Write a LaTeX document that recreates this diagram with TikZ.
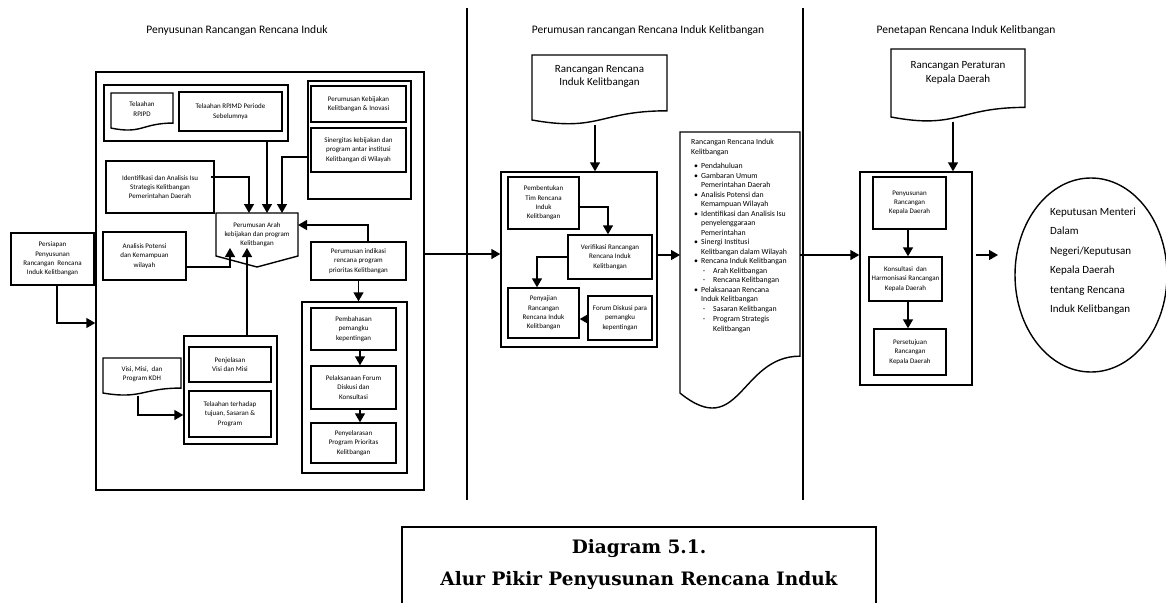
\documentclass[tikz,border=0pt]{standalone}
\usepackage{fontspec}
\setmainfont{Carlito}
\newfontfamily\capfont{DejaVu Serif}
\usetikzlibrary{arrows.meta,calc,shapes.geometric}

% outline of a flowchart "document" symbol drawn over a named area node
\newcommand\docoutline[1]{%
  \draw[ln] (#1.north west) -- (#1.north east)
    -- ($(#1.north east)!0.802!(#1.south east)$)
    .. controls ($(#1.north)!0.802!(#1.south)$) and ($(#1.north)!1.108!(#1.south)$)
    .. ($(#1.north west)!0.934!(#1.south west)$) -- cycle;}

\tikzset{
  ln/.style={line width=1.4pt},
  tiny/.style={font=\fontsize{7}{9.3}\selectfont},
  box/.style={draw, ln, rectangle, inner sep=0pt, align=center, tiny},
  grp/.style={draw, ln, rectangle, inner sep=0pt},
  area/.style={rectangle, inner sep=0pt, outer sep=0pt},
  arr/.style={ln, -{Triangle[length=9pt,width=10pt]}},
  head/.style={font=\fontsize{11.5}{13}\selectfont},
  doctext/.style={align=center, font=\fontsize{11}{13.5}\selectfont},
  captext/.style={font=\capfont\bfseries\fontsize{18.5}{21}\selectfont},
}

\begin{document}
\begin{tikzpicture}[x=1pt,y=-1pt]
\useasboundingbox (0,0) rectangle (1166,602);
\fill[white] (0,0) rectangle (1166,602);

% ---- column headings and separators
\node[head] (h1) at (237,30) {Penyusunan Rancangan Rencana Induk};
\node[head] (h2) at (648,30) {Perumusan rancangan Rencana Induk Kelitbangan};
\node[head] (h3) at (966,30) {Penetapan Rencana Induk Kelitbangan};
\draw[ln] (467,8) -- (467,500);
\draw[ln] (803,8) -- (803,500);

% ---- stage 1: drafting
\node[box, minimum width=83, minimum height=52] (persiapan) at (52.5,259)
  {Persiapan\\Penyusunan\\Rancangan\ \ Rencana\\Induk Kelitbangan};
\node[grp, minimum width=328, minimum height=418] (main) at (260,281) {};

\node[grp, minimum width=184, minimum height=56] (grpA) at (196,113) {};
\node[area, minimum width=62, minimum height=37.5] (rpjpd) at (142,111.75) {};
\docoutline{rpjpd}
\node[tiny, align=center] (rpjpdtxt) at (142,109) {Telaahan\\RPJPD};
\node[box, minimum width=103, minimum height=39] (rpjmd) at (230.5,111.5)
  {Telaahan RPJMD Periode\\Sebelumnya};

\node[grp, minimum width=103, minimum height=118] (grpB) at (359.5,140) {};
\node[box, minimum width=95, minimum height=36] (kebijakan) at (358.5,104)
  {Perumusan Kebijakan\\Kelitbangan \& Inovasi};
\node[box, minimum width=95, minimum height=44] (sinergi) at (358.5,150)
  {Sinergitas kebijakan dan\\program antar institusi\\Kelitbangan di Wilayah};

\node[box, minimum width=108, minimum height=52] (ident) at (160,187)
  {Identifikasi dan Analisis Isu\\Strategis Kelitbangan\\Pemerintahan Daerah};

\node[area, minimum width=82, minimum height=43, align=center, tiny] (arah) at (257,234.5)
  {Perumusan Arah\\kebijakan dan program\\Kelitbangan};
\draw[ln] (arah.north west) -- (arah.north east) -- (arah.south east)
  -- ($(arah.south)+(0,11)$) -- (arah.south west) -- cycle;

\node[box, minimum width=83, minimum height=48] (analisis) at (144.5,256)
  {Analisis Potensi\\dan Kemampuan\\wilayah};

\node[box, minimum width=95, minimum height=38] (indikasi) at (358.5,261)
  {Perumusan indikasi\\rencana program\\prioritas Kelitbangan};

\node[grp, minimum width=105, minimum height=171] (grpC) at (354.5,387.5) {};
\node[box, minimum width=85, minimum height=42] (pembahasan) at (353.5,329)
  {Pembahasan\\pemangku\\kepentingan};
\node[box, minimum width=85, minimum height=43] (pelaksanaan) at (353.5,387.5)
  {Pelaksanaan Forum\\Diskusi dan\\Konsultasi};
\node[box, minimum width=85, minimum height=40] (penyelarasan) at (353.5,443)
  {Penyelarasan\\Program Prioritas\\Kelitbangan};

\node[grp, minimum width=93, minimum height=108] (grpD) at (230.5,390) {};
\node[box, minimum width=82, minimum height=35] (penjelasan) at (230,364.5)
  {Penjelasan\\Visi dan Misi};
\node[box, minimum width=82, minimum height=46] (telaah) at (230,414)
  {Telaahan terhadap\\tujuan, Sasaran \&\\Program};

\node[area, minimum width=78, minimum height=37.5] (visi) at (142,376.75) {};
\docoutline{visi}
\node[tiny, align=center] (visitxt) at (142,374) {Visi, Misi,\ \ dan\\Program KDH};

% stage 1 connectors
\coordinate (pp) at ([xshift=4.5pt]persiapan.south);
\draw[arr] (pp) |- ([yshift=-42pt]main.west);

\coordinate (a1) at ($(arah.north)+(-8,0)$);
\coordinate (a2) at ($(arah.north)+(10,0)$);
\coordinate (a3) at ($(arah.north)+(25,0)$);
\draw[arr] ([xshift=-4pt,yshift=10pt]ident.east) -| (a1);
\draw[arr] (grpA.south -| a2) -- (a2);
\draw[arr] ([yshift=-17pt]grpB.west) -| (a3);

\coordinate (b1) at ($(arah.south west)+(14,-8)$);
\coordinate (b2) at ($(arah.south west)+(31,-8)$);
\draw[arr] ([yshift=-11pt]analisis.east) -| (b1);
\draw[arr] (grpD.north -| b2) -- (b2);

\draw[arr] ([xshift=9.5pt]indikasi.north) |- ([yshift=9.5pt]arah.east);
\draw[arr] (indikasi.south) -- (indikasi.south |- grpC.north);

\coordinate (c1) at ([xshift=6.5pt]pembahasan.south);
\coordinate (c2) at ([xshift=6.5pt]pelaksanaan.south);
\draw[arr] (c1) -- (c1 |- pelaksanaan.north);
\draw[arr] (c2) -- (c2 |- penyelarasan.north);

\coordinate (vv) at ([xshift=-4pt]visi.south);
\draw[arr] (vv) |- ([yshift=-25pt]grpD.west);

% ---- stage 2: formulation
\node[area, minimum width=135, minimum height=69.6] (rri) at (599.5,89.8) {};
\docoutline{rri}
\node[doctext] (rritxt) at (599.5,76.5) {Rancangan Rencana\\Induk Kelitbangan};

\node[grp, minimum width=156, minimum height=175] (mid) at (579,259.5) {};
\node[box, minimum width=71, minimum height=52] (pembentukan) at (543.5,203)
  {Pembentukan\\Tim Rencana\\Induk\\Kelitbangan};
\node[box, minimum width=84, minimum height=44] (verifikasi) at (610,257)
  {Verifikasi Rancangan\\Rencana Induk\\Kelitbangan};
\node[box, minimum width=71, minimum height=50] (penyajian) at (543.5,313)
  {Penyajian\\Rancangan\\Rencana Induk\\Kelitbangan};
\node[box, minimum width=64, minimum height=44] (forum) at (620,318)
  {Forum Diskusi para\\pemangku\\kepentingan};

\coordinate (m0) at ([yshift=27pt]main.east);
\draw[arr] (m0) -- (m0 -| mid.west);
\coordinate (r0) at ([xshift=-4.5pt]rri.south);
\draw[arr] (r0) -- (r0 |- mid.north);
\draw[arr] ([yshift=-4pt]pembentukan.east) -| ([xshift=-2pt]verifikasi.north);
\draw[arr] (verifikasi.west) -| ([xshift=-6.5pt]penyajian.north);
\coordinate (f0) at ([yshift=-1pt]forum.west);
\draw[arr] (f0) -- (f0 -| penyajian.east);

% draft plan document with its contents
\node[area, minimum width=120, minimum height=279.5] (bigdoc) at (740,271.75) {};
\docoutline{bigdoc}
\node[anchor=north west, inner sep=0pt, font=\fontsize{7.8}{9.5}\selectfont] (bigtxt) at (691,138) {%
\begin{tabular}{@{}p{10pt}@{}l@{}}
\multicolumn{2}{@{}l@{}}{Rancangan Rencana Induk}\\
\multicolumn{2}{@{}l@{}}{Kelitbangan}\\[5pt]
\hspace{3pt}\textbullet & Pendahuluan\\
\hspace{3pt}\textbullet & Gambaran Umum\\
 & Pemerintahan Daerah\\
\hspace{3pt}\textbullet & Analisis Potensi dan\\
 & Kemampuan Wilayah\\
\hspace{3pt}\textbullet & Identifikasi dan Analisis Isu\\
 & penyelenggaraan\\
 & Pemerintahan\\
\hspace{3pt}\textbullet & Sinergi Institusi\\
 & Kelitbangan dalam Wilayah\\
\hspace{3pt}\textbullet & Rencana Induk Kelitbangan\\
 & \makebox[12pt][l]{\ -}Arah Kelitbangan\\
 & \makebox[12pt][l]{\ -}Rencana Kelitbangan\\
\hspace{3pt}\textbullet & Pelaksanaan Rencana\\
 & Induk Kelitbangan\\
 & \makebox[12pt][l]{\ -}Sasaran Kelitbangan\\[1pt]
 & \makebox[12pt][l]{\ -}Program Strategis\\
 & \hspace{12pt}Kelitbangan
\end{tabular}};

\coordinate (m1) at ([yshift=4.5pt]mid.east);
\draw[arr] (m1) -- (m1 -| bigdoc.west);

% ---- stage 3: enactment
\node[area, minimum width=134, minimum height=72.8] (pera) at (958,85.4) {};
\docoutline{pera}
\node[doctext] (peratxt) at (958,73) {Rancangan Peraturan\\Kepala Daerah};

\node[grp, minimum width=112, minimum height=213] (right) at (916,278.5) {};
\node[box, minimum width=73, minimum height=52] (susun) at (909.5,203)
  {Penyusunan\\Rancangan\\Kepala Daerah};
\node[box, minimum width=73, minimum height=44] (konsultasi) at (905.5,279)
  {Konsultasi\ \ dan\\Harmonisasi Rancangan\\Kepala Daerah};
\node[box, minimum width=72, minimum height=46] (setuju) at (910,352)
  {Persetujuan\\Rancangan\\Kepala Daerah};

\coordinate (d0) at ([yshift=16.75pt]bigdoc.east);
\draw[arr] (d0) -- (d0 -| right.west);
\coordinate (p0) at ([xshift=-5pt]pera.south);
\draw[arr] (p0) -- (p0 |- right.north);
\coordinate (s1) at ([xshift=-1.5pt]susun.south);
\draw[arr] (s1) -- (s1 |- konsultasi.north);
\coordinate (s2) at ([xshift=2.5pt]konsultasi.south);
\draw[arr] (s2) -- (s2 |- setuju.north);

\node[draw, ln, ellipse, minimum width=152, minimum height=194, inner sep=0pt] (kep) at (1091,275) {};
\node[align=left, font=\fontsize{11}{19.5}\selectfont] (keptxt) at (1093,261)
  {Keputusan Menteri\\Dalam\\Negeri/Keputusan\\Kepala Daerah\\tentang Rencana\\Induk Kelitbangan};
\coordinate (e0) at ([xshift=3pt,yshift=23.5pt]right.east);
\coordinate (e1) at (998,255);
\draw[arr] (e0) -- (e1);

% ---- caption
\draw[ln] (402,527) rectangle (876,620);
\node[captext] (cap1) at (639,549) {Diagram 5.1.};
\node[captext] (cap2) at (639,581) {Alur Pikir Penyusunan Rencana Induk};
\end{tikzpicture}
\end{document}
